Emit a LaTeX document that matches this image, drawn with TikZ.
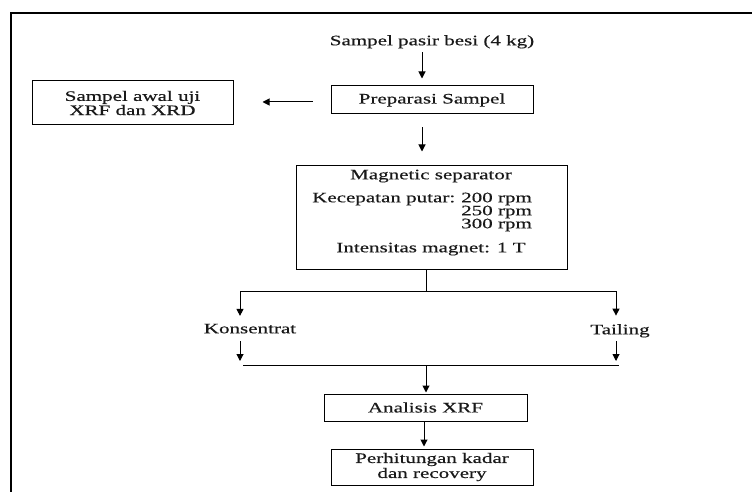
\documentclass[tikz,border=0pt]{standalone}
\usepackage{fontspec}
\setmainfont{Liberation Serif}[FakeStretch=1.45,FakeBold=0.5]
\usetikzlibrary{arrows.meta}
\begin{document}
\begin{tikzpicture}[x=1pt,y=-1pt,
  every node/.style={font=\fontsize{14.5}{13}\selectfont, text=black!90},
  box/.style={draw, line width=1pt, inner sep=0pt, align=center},
  txt/.style={inner sep=0pt, anchor=mid},
  arr/.style={-{Triangle[length=7pt,width=7pt]}, line width=1pt},
  ln/.style={line width=1pt}]
\useasboundingbox (0,0) rectangle (752,492);
\draw[line width=2.2pt] (11,492) -- (11,13) -- (752,13);

% nodes
\node[txt] (src) at (432,43) {Sampel pasir besi (4 kg)};
\node[box, minimum width=202pt, minimum height=28pt] (prep) at (432,100) {Preparasi Sampel};
\node[box, minimum width=201pt, minimum height=44pt, font=\fontsize{14.5}{13}\selectfont] (awal) at (132.5,103) {Sampel awal uji\\XRF dan XRD};
\node[box, minimum width=271pt, minimum height=104pt] (mag) at (431.5,217) {};
\node[txt] (magt) at (431,177) {Magnetic separator};
\node[txt, anchor=mid west] (kec) at (312,200) {Kecepatan putar:};
\node[txt, anchor=mid west] (r200) at (461,200) {200 rpm};
\node[txt, anchor=mid west] (r250) at (461,213) {250 rpm};
\node[txt, anchor=mid west] (r300) at (461,226) {300 rpm};
\node[txt] (int) at (431,250) {Intensitas magnet: 1 T};
\node[txt] (kons) at (250,331) {Konsentrat};
\node[txt] (tail) at (620,332) {Tailing};
\node[box, minimum width=203pt, minimum height=27pt] (anal) at (425.5,407.5) {Analisis XRF};
\node[box, minimum width=202pt, minimum height=36pt, font=\fontsize{14.5}{15}\selectfont] (perh) at (432,467) {Perhitungan kadar\\dan recovery};

% coordinates
\coordinate (split) at (426,291);
\coordinate (sl) at (240,291);
\coordinate (sr) at (616,291);
\coordinate (jl) at (240,365);
\coordinate (jr) at (616,365);
\coordinate (join) at (426,365);

% connectors
\draw[arr, shorten <=3.5pt, shorten >=7pt] ([xshift=-10pt]src.south) -- ([xshift=-10pt]prep.north);
\draw[arr, shorten <=18pt, shorten >=29pt] ([yshift=-2pt]prep.west) -- ([yshift=-2pt]prep.west -| awal.east);
\draw[arr, shorten <=13pt, shorten >=13pt] ([xshift=-10pt]prep.south) -- ([xshift=-10pt]prep.south |- mag.north);
\draw[ln] (split |- mag.south) -- (split);
\draw[ln] (sl) -- (sr);
\draw[arr, shorten >=7.7pt] (sl) -- (sl |- kons.north);
\draw[arr, shorten >=8.4pt] (sr) -- (sr |- tail.north);
\draw[arr, shorten <=7.7pt, shorten >=4pt] (jl |- kons.south) -- (jl);
\draw[arr, shorten <=3.6pt, shorten >=4pt] (jr |- tail.south) -- (jr);
\draw[ln] ([xshift=3pt]jl) -- ([xshift=3pt]jr);
\draw[arr, shorten >=1pt] (join) -- (join |- anal.north);
\draw[arr, shorten >=2pt] ([xshift=-1.5pt]anal.south) -- ([xshift=-1.5pt]anal.south |- perh.north);
\end{tikzpicture}
\end{document}
